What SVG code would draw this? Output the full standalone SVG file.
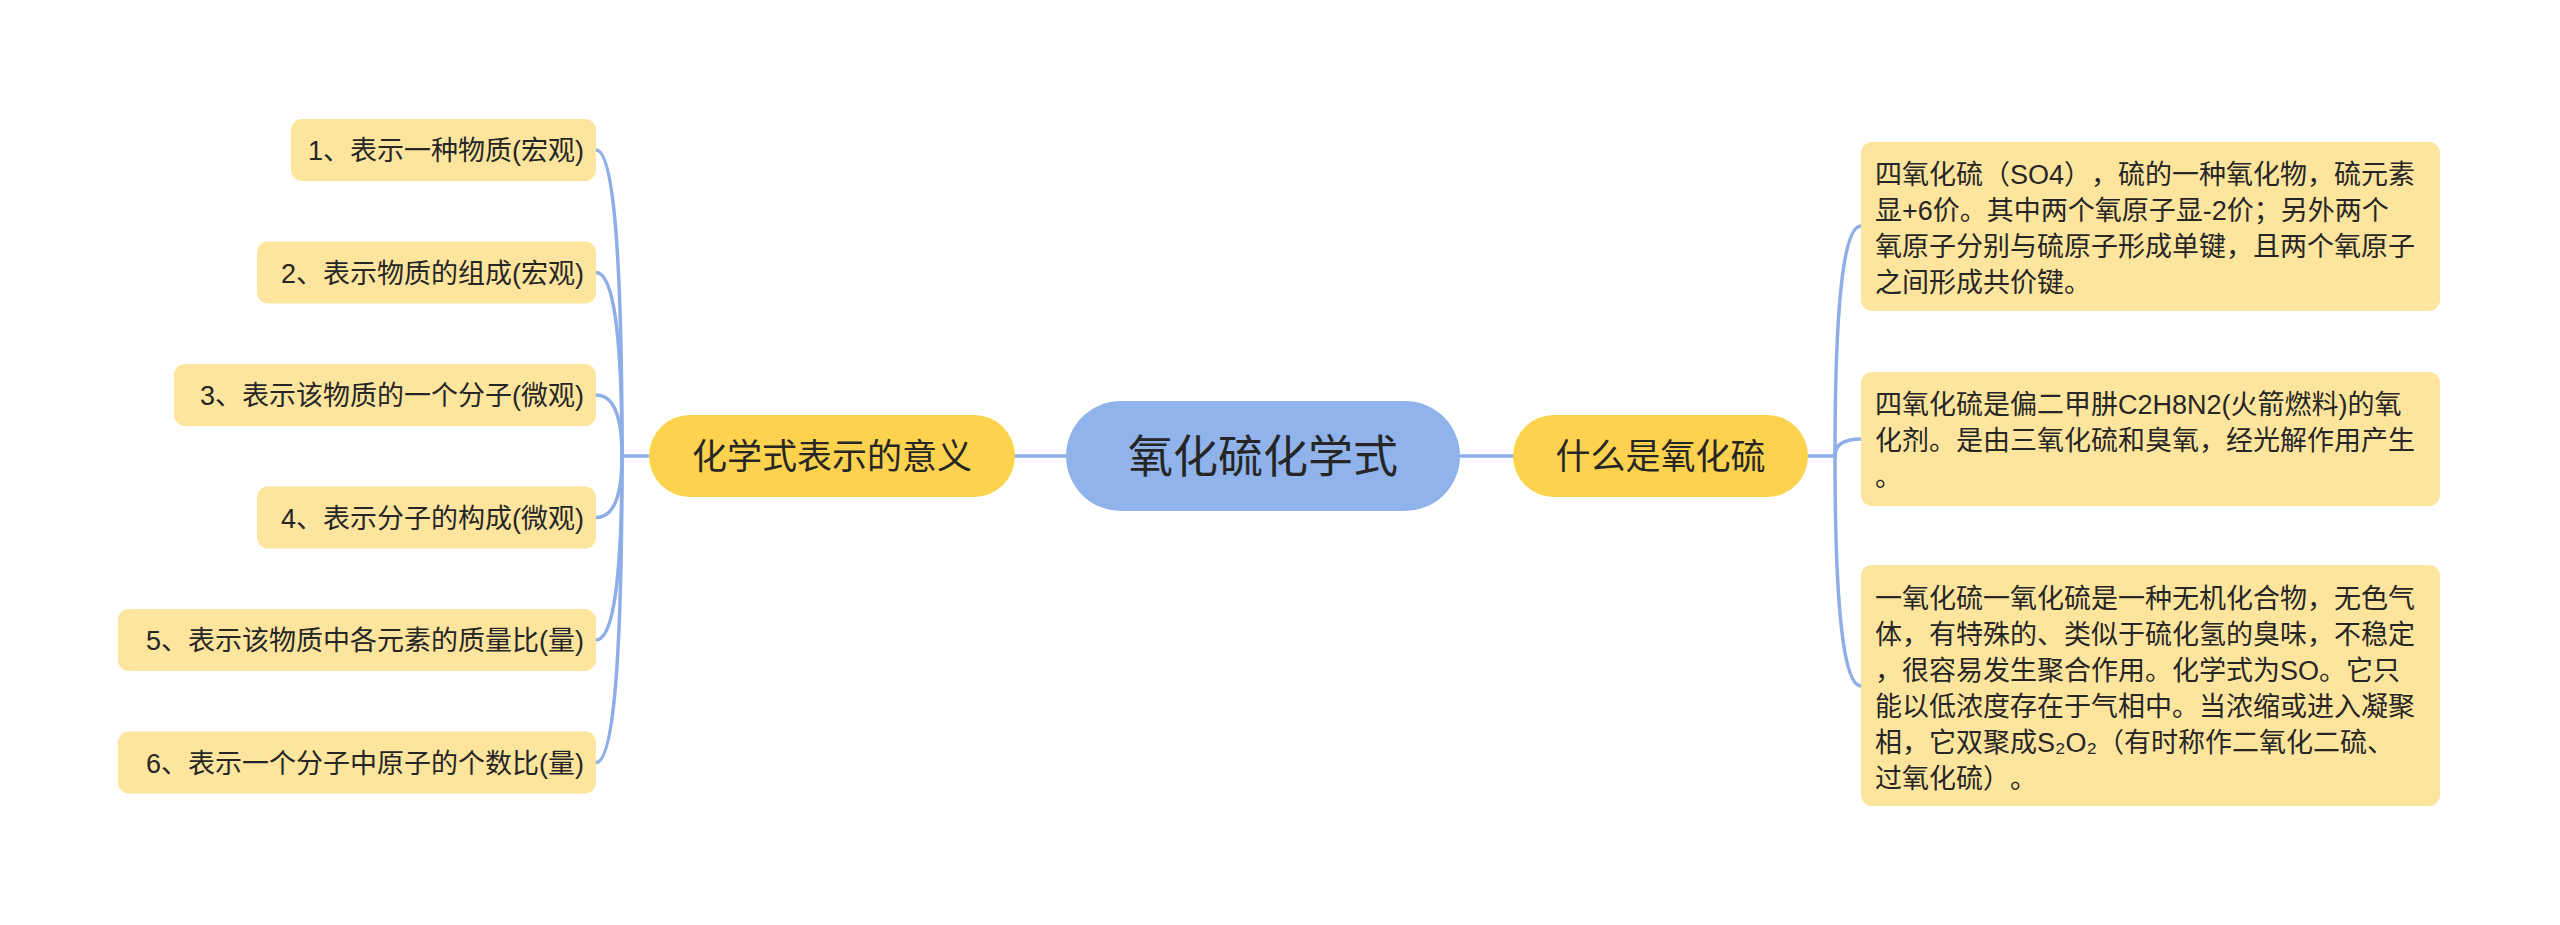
<svg xmlns="http://www.w3.org/2000/svg" width="2560" height="925" viewBox="0 0 2560 925">
<style>
text{font-family:"Liberation Sans","Noto Sans CJK SC",sans-serif;fill:#262626;text-spacing-trim:space-all}
.leaf{fill:#FEE59E}
.main{fill:#FDD24F}
.root{fill:#8FB3EA}
.lt{font-size:27px;text-anchor:end}
.rt{font-size:27px}
.mt{font-size:35px;text-anchor:middle}
.ct{font-size:45px;text-anchor:middle}
.conn path{fill:none;stroke:#8EAEE8;stroke-width:3.5;stroke-linecap:round}
</style>
<rect width="2560" height="925" fill="#ffffff"/>
<g class="conn" id="connectors">
<path d="M1015 456 L1066 456"/>
<path d="M1460 456 L1513 456"/>
<path d="M648 456 L622 456"/>
<path d="M622 456 Q622 150 596 150"/>
<path d="M622 456 Q622 272.5 596 272.5"/>
<path d="M622 456 Q622 395 596 395"/>
<path d="M622 456 Q622 517.5 596 517.5"/>
<path d="M622 456 Q622 640 596 640"/>
<path d="M622 456 Q622 762.5 596 762.5"/>
<path d="M1808 456 L1835 456"/>
<path d="M1835 456 Q1835 226 1861 226"/>
<path d="M1835 456 Q1835 439 1861 439"/>
<path d="M1835 456 Q1835 686 1861 686"/>
</g>
<g id="root">
<rect class="root" x="1066" y="401" width="394" height="110" rx="55"/>
<text class="ct" x="1263" y="473">氧化硫化学式</text>
</g>
<g id="main-left">
<rect class="main" x="649" y="415" width="366" height="82" rx="41"/>
<text class="mt" x="832" y="469">化学式表示的意义</text>
</g>
<g id="main-right">
<rect class="main" x="1513" y="415" width="295" height="82" rx="41"/>
<text class="mt" x="1660.5" y="469">什么是氧化硫</text>
</g>
<g id="leaf1">
<rect class="leaf" x="291" y="119" width="305" height="62" rx="11"/>
<text class="lt" x="584" y="160">1、表示一种物质(宏观)</text>
</g>
<g id="leaf2">
<rect class="leaf" x="257" y="241.5" width="339" height="62" rx="11"/>
<text class="lt" x="584" y="282.5">2、表示物质的组成(宏观)</text>
</g>
<g id="leaf3">
<rect class="leaf" x="174" y="364" width="422" height="62" rx="11"/>
<text class="lt" x="584" y="405">3、表示该物质的一个分子(微观)</text>
</g>
<g id="leaf4">
<rect class="leaf" x="257" y="486.5" width="339" height="62" rx="11"/>
<text class="lt" x="584" y="527.5">4、表示分子的构成(微观)</text>
</g>
<g id="leaf5">
<rect class="leaf" x="118" y="609" width="478" height="62" rx="11"/>
<text class="lt" x="584" y="650">5、表示该物质中各元素的质量比(量)</text>
</g>
<g id="leaf6">
<rect class="leaf" x="118" y="731.5" width="478" height="62" rx="11"/>
<text class="lt" x="584" y="772.5">6、表示一个分子中原子的个数比(量)</text>
</g>
<g id="right1">
<rect class="leaf" x="1861" y="142" width="579" height="169" rx="11"/>
<text class="rt" x="1875" y="183.5">四氧化硫（SO4），硫的一种氧化物，硫元素</text>
<text class="rt" x="1875" y="219.5">显+6价。其中两个氧原子显-2价；另外两个</text>
<text class="rt" x="1875" y="255.5">氧原子分别与硫原子形成单键，且两个氧原子</text>
<text class="rt" x="1875" y="291.5">之间形成共价键。</text>
</g>
<g id="right2">
<rect class="leaf" x="1861" y="372" width="579" height="134" rx="11"/>
<text class="rt" x="1875" y="414">四氧化硫是偏二甲肼C2H8N2(火箭燃料)的氧</text>
<text class="rt" x="1875" y="450">化剂。是由三氧化硫和臭氧，经光解作用产生</text>
<text class="rt" x="1875" y="486">。</text>
</g>
<g id="right3">
<rect class="leaf" x="1861" y="565" width="579" height="241" rx="11"/>
<text class="rt" x="1875" y="608">一氧化硫一氧化硫是一种无机化合物，无色气</text>
<text class="rt" x="1875" y="644">体，有特殊的、类似于硫化氢的臭味，不稳定</text>
<text class="rt" x="1875" y="680">，很容易发生聚合作用。化学式为SO。它只</text>
<text class="rt" x="1875" y="716">能以低浓度存在于气相中。当浓缩或进入凝聚</text>
<text class="rt" x="1875" y="752">相，它双聚成S₂O₂（有时称作二氧化二硫、</text>
<text class="rt" x="1875" y="788">过氧化硫）。</text>
</g>
</svg>
